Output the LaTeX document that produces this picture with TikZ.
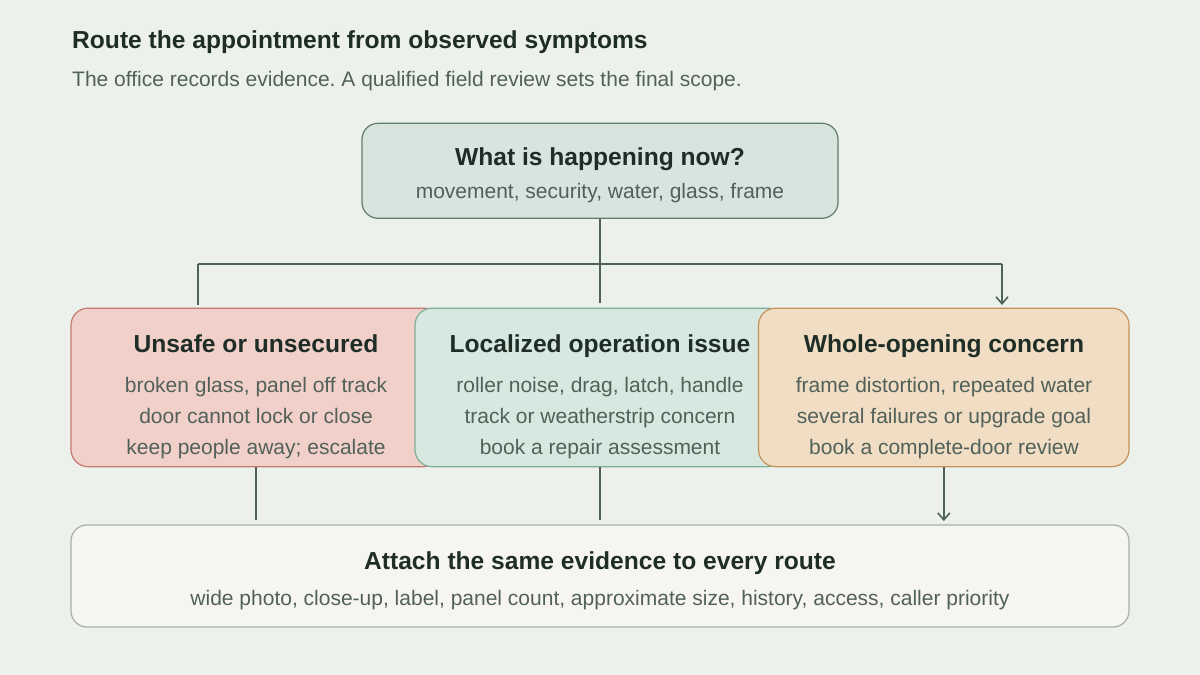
\documentclass[tikz,border=0pt]{standalone}
\usepackage{fontspec}
\setmainfont{Liberation Sans}
\usetikzlibrary{arrows.meta,calc}
\frenchspacing
\definecolor{bg}{HTML}{EDF1EC}
\definecolor{ink}{HTML}{1F2D27}
\definecolor{soft}{HTML}{516159}
\definecolor{wire}{HTML}{4E6259}
\definecolor{topfill}{HTML}{D8E4DE}\definecolor{topdraw}{HTML}{5F7C6E}
\definecolor{redfill}{HTML}{F2D0CA}\definecolor{reddraw}{HTML}{C57B70}
\definecolor{grnfill}{HTML}{D6E8DF}\definecolor{grndraw}{HTML}{80AE98}
\definecolor{ambfill}{HTML}{F0DDC3}\definecolor{ambdraw}{HTML}{C4935A}
\definecolor{botfill}{HTML}{F6F5F0}\definecolor{botdraw}{HTML}{A9B0AA}
\tikzset{
  panel/.style={rectangle, rounded corners=17pt, line width=1.2pt, inner sep=0pt},
  ttl/.style={anchor=base, text=ink, font=\fontsize{24.6}{28}\selectfont\bfseries, inner sep=0pt},
  bdy/.style={anchor=base, text=soft, font=\fontsize{21}{25}\selectfont, inner sep=0pt},
  wireline/.style={draw=wire, line width=2pt},
  tip/.style={-{Straight Barb[length=7pt,width=12pt,line width=1.6pt]}}
}
\begin{document}
\begin{tikzpicture}[x=1pt,y=-1pt]
\useasboundingbox (0,0) rectangle (1200,675);
\fill[bg] (0,0) rectangle (1200,675);

\node[anchor=base west, text=ink, font=\fontsize{24.6}{28}\selectfont\bfseries, inner sep=0pt] (title) at (72,48.5) {Route the appointment from observed symptoms};
\node[anchor=base west, text=soft, font=\fontsize{21}{25}\selectfont, inner sep=0pt] (subtitle) at (72,86) {The office records evidence. A qualified field review sets the final scope.};

% top box
\node[panel, fill=topfill, draw=topdraw, minimum width=476pt, minimum height=95pt, rounded corners=16pt] (top) at (600,170.8) {};
\node[ttl] (toptitle) at (600,165) {What is happening now?};
\node[bdy] (topbody) at (600,198) {movement, security, water, glass, frame};

% connectors from top
\coordinate (busL) at (198,264);
\coordinate (busR) at (1002,264);

\draw[wireline] (top.south) -- (600,303);
\draw[wireline] (busL) -- (busR);
\draw[wireline] (busL) -- (198,305);
\draw[wireline, tip] (busR) -- (1002,305);

% middle row
\node[panel, fill=redfill, draw=reddraw, minimum width=370pt, minimum height=158.5pt] (unsafe) at (256,387.4) {};
\node[panel, fill=grnfill, draw=grndraw, minimum width=370pt, minimum height=158.5pt] (local) at (600,387.4) {};
\node[panel, fill=ambfill, draw=ambdraw, minimum width=370.5pt, minimum height=158.5pt] (whole) at (943.8,387.4) {};

\node[ttl] (unsafetitle) at (256,352) {Unsafe or unsecured};
\node[bdy] (unsafe1) at (256,392) {broken glass, panel off track};
\node[bdy] (unsafe2) at (256,423) {door cannot lock or close};
\node[bdy] (unsafe3) at (256,454) {keep people away; escalate};

\node[ttl] (localtitle) at (600,352) {Localized operation issue};
\node[bdy] (local1) at (600,392) {roller noise, drag, latch, handle};
\node[bdy] (local2) at (600,423) {track or weatherstrip concern};
\node[bdy] (local3) at (600,454) {book a repair assessment};

\node[ttl] (wholetitle) at (944,352) {Whole-opening concern};
\node[bdy] (whole1) at (944,392) {frame distortion, repeated water};
\node[bdy] (whole2) at (944,423) {several failures or upgrade goal};
\node[bdy] (whole3) at (944,454) {book a complete-door review};

% bottom box
\node[panel, fill=botfill, draw=botdraw, minimum width=1058pt, minimum height=102pt, rounded corners=16pt] (evidence) at (600,576) {};
\node[ttl] (evtitle) at (600,569) {Attach the same evidence to every route};
\node[bdy] (evbody) at (600,605) {wide photo, close-up, label, panel count, approximate size, history, access, caller priority};

% connectors down
\draw[wireline] (unsafe.south) -- ([yshift=4pt]unsafe.south |- evidence.north);
\draw[wireline] (local.south) -- ([yshift=4pt]local.south |- evidence.north);
\draw[wireline, tip] (whole.south) -- ([yshift=3.3pt]whole.south |- evidence.north);
\end{tikzpicture}
\end{document}
